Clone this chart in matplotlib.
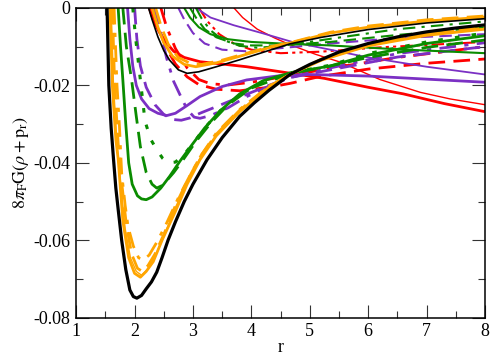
import numpy as np
import matplotlib
matplotlib.use("Agg")
import matplotlib.pyplot as plt

# colours used by the curves
RED = "#ff0000"
PURPLE = "#7b30c4"
GREEN = "#0a8c00"
ORANGE = "#ffa500"
BLACK = "#000000"

# ---- deep wells (r, value) ----
black_deep = [(1.53, 0), (1.56, -0.02), (1.6, -0.031), (1.64, -0.039), (1.68, -0.0465), (1.72, -0.052),
              (1.78, -0.060), (1.85, -0.0675), (1.92, -0.0728), (1.98, -0.0745), (2.04, -0.0749),
              (2.12, -0.0742), (2.2, -0.0725), (2.29, -0.0707), (2.38, -0.0682), (2.47, -0.0645),
              (2.575, -0.0599), (2.7, -0.0552), (2.85, -0.0500), (3.0, -0.0455), (3.24, -0.0392),
              (3.5, -0.0335), (3.8, -0.0280), (4.05, -0.0245), (4.3, -0.0213), (4.66, -0.0172),
              (5.0, -0.0146), (5.5, -0.0114), (6.0, -0.0092), (6.5, -0.0075), (7.0, -0.0062),
              (7.5, -0.0052), (8.0, -0.0044)]
orange_deep = [(1.58, 0), (1.62, -0.02), (1.68, -0.034), (1.72, -0.039), (1.8, -0.055), (1.9, -0.0645),
               (2.0, -0.0685), (2.1, -0.0695), (2.2, -0.068), (2.32, -0.0655), (2.47, -0.060), (2.7, -0.0525),
               (2.9, -0.0455), (3.12, -0.0392), (3.4, -0.0330), (3.8, -0.0268), (4.3, -0.0205),
               (4.66, -0.0172), (5.2, -0.0135), (6.0, -0.0098), (7.0, -0.0071), (8.0, -0.0055)]
orange_deep_thin = [(1.6, 0), (1.64, -0.02), (1.7, -0.035), (1.76, -0.045), (1.84, -0.057), (1.93, -0.0645),
                    (2.03, -0.068), (2.12, -0.069), (2.22, -0.0675), (2.34, -0.0645), (2.5, -0.059),
                    (2.7, -0.0515), (2.9, -0.0450), (3.12, -0.0388), (3.4, -0.0328), (3.8, -0.0266),
                    (4.3, -0.0204), (4.66, -0.0172), (5.2, -0.0134), (6.0, -0.0097), (7.0, -0.0070), (8.0, -0.0054)]
orange_deep_dash = [(1.62, 0), (1.66, -0.02), (1.72, -0.035), (1.78, -0.045), (1.86, -0.056), (1.95, -0.0635),
                    (2.05, -0.0672), (2.13, -0.068), (2.23, -0.0665), (2.35, -0.0635), (2.5, -0.0585),
                    (2.7, -0.051), (2.9, -0.0447), (3.12, -0.0385), (3.4, -0.0326), (3.8, -0.0264),
                    (4.3, -0.0203), (4.66, -0.0172), (5.2, -0.0133), (6.0, -0.0096), (7.0, -0.0068), (8.0, -0.0052)]
orange_deep_dashdot = [(1.65, 0), (1.7, -0.02), (1.74, -0.03), (1.78, -0.0427), (1.84, -0.051), (1.89, -0.0565),
                       (1.98, -0.0615), (2.07, -0.0645), (2.15, -0.065), (2.25, -0.0638), (2.38, -0.0605),
                       (2.55, -0.0555), (2.75, -0.049), (2.95, -0.0432), (3.15, -0.0378), (3.4, -0.0323),
                       (3.8, -0.0262), (4.3, -0.0202), (4.66, -0.0172), (5.2, -0.0132), (6.0, -0.0094),
                       (7.0, -0.0066), (8.0, -0.0050)]
green_deep = [(1.72, 0), (1.76, -0.01), (1.8, -0.0186), (1.85, -0.030), (1.9, -0.040), (1.96, -0.0455),
              (2.05, -0.0485), (2.12, -0.0493), (2.2, -0.0495), (2.3, -0.0488), (2.45, -0.0465),
              (2.6, -0.0435), (2.78, -0.0395), (3.0, -0.0350), (3.2, -0.0310), (3.47, -0.0265),
              (3.8, -0.0222), (4.2, -0.0188), (4.66, -0.0168), (5.35, -0.0150), (6.0, -0.0122),
              (7.0, -0.0092), (8.0, -0.0072)]
green_deep_dash = [(1.8, 0), (1.86, -0.01), (1.95, -0.0186), (2.03, -0.028), (2.1, -0.0358), (2.2, -0.0425),
                   (2.3, -0.0455), (2.38, -0.0465), (2.48, -0.0458), (2.67, -0.0425), (2.85, -0.0388),
                   (3.05, -0.0345), (3.3, -0.0298), (3.6, -0.0250), (4.0, -0.0207), (4.66, -0.0170),
                   (5.35, -0.0150), (6.0, -0.0128), (7.0, -0.0102), (8.0, -0.0083)]
green_deep_dots = [(1.97, 0), (2.02, -0.008), (2.1, -0.0186), (2.18, -0.0293), (2.28, -0.034), (2.38, -0.0366),
                   (2.48, -0.0388), (2.58, -0.0400), (2.7, -0.0398), (2.85, -0.0378), (3.0, -0.0350),
                   (3.2, -0.0310), (3.47, -0.0265), (3.8, -0.0225), (4.2, -0.0190), (4.66, -0.0168),
                   (5.35, -0.0148), (6.0, -0.0118), (7.0, -0.0088), (8.0, -0.0065)]
purple_deep = [(1.88, 0), (1.92, -0.008), (1.97, -0.015), (2.03, -0.020), (2.12, -0.0235), (2.25, -0.026),
               (2.4, -0.0272), (2.55, -0.0278), (2.7, -0.0272), (2.9, -0.0252), (3.12, -0.0229),
               (3.5, -0.0203), (3.92, -0.0186), (4.49, -0.0175), (5.0, -0.0172), (6.0, -0.0176),
               (7.0, -0.0184), (8.0, -0.0192)]
purple_deep_dash = [(2.0, 0), (2.04, -0.008), (2.1, -0.015), (2.2, -0.0205), (2.35, -0.025), (2.5, -0.0275),
                    (2.65, -0.0288), (2.8, -0.029), (2.95, -0.0284), (3.12, -0.0272), (3.4, -0.0255),
                    (3.69, -0.0237), (4.3, -0.0200), (4.66, -0.0180), (5.35, -0.0160), (6.5, -0.0127),
                    (8.0, -0.0100)]
purple_deep_dashdot = [(2.35, 0), (2.44, -0.006), (2.55, -0.013), (2.67, -0.019), (2.78, -0.0225),
                       (2.9, -0.0262), (3.02, -0.0282), (3.12, -0.0285), (3.3, -0.0278), (3.6, -0.0258),
                       (3.92, -0.0229), (4.3, -0.0202), (4.66, -0.0180), (5.35, -0.0155), (6.5, -0.0118),
                       (8.0, -0.0090)]
red_deep = [(2.25, 0), (2.32, -0.003), (2.42, -0.0062), (2.55, -0.0091), (2.67, -0.0112), (2.85, -0.0128),
            (3.12, -0.0139), (3.5, -0.0145), (3.92, -0.0152), (4.5, -0.0165), (5.25, -0.0182),
            (6.0, -0.0205), (6.6, -0.0222), (7.3, -0.0247), (8.0, -0.0268)]
red_deep_dash = [(2.3, 0), (2.4, -0.005), (2.55, -0.0105), (2.7, -0.0145), (2.9, -0.0178), (3.1, -0.0198),
                 (3.4, -0.0210), (3.8, -0.0214), (4.3, -0.0205), (4.66, -0.0195), (5.18, -0.0177),
                 (6.0, -0.0158), (7.0, -0.0143), (8.0, -0.0132)]
red_deep_dashdot = [(2.45, 0), (2.55, -0.005), (2.7, -0.0105), (2.9, -0.0155), (3.1, -0.0185), (3.3, -0.0196),
                    (3.6, -0.0199), (4.0, -0.0192), (4.6, -0.0176), (5.35, -0.0156), (6.5, -0.0128),
                    (8.0, -0.0100)]

# ---- shallow curves ----
black_shallow = [(2.24, 0), (2.3, -0.003), (2.4, -0.0075), (2.5, -0.011), (2.6, -0.0135), (2.75, -0.016),
                 (2.9, -0.0169), (3.1, -0.0165), (3.4, -0.0152), (3.8, -0.0134), (4.3, -0.0110),
                 (4.66, -0.0093), (5.2, -0.0076), (6.0, -0.0056), (7.0, -0.0039), (8.0, -0.0028)]
orange_shallow = [(2.3, 0), (2.4, -0.005), (2.5, -0.009), (2.65, -0.0125), (2.85, -0.0146), (3.05, -0.0152),
                  (3.4, -0.0142), (3.8, -0.0125), (4.3, -0.0103), (4.66, -0.0091), (5.35, -0.0065),
                  (6.0, -0.0050), (7.0, -0.0034), (8.0, -0.0024)]
orange_shallow_dash = [(2.36, 0), (2.46, -0.005), (2.58, -0.0095), (2.75, -0.0128), (2.95, -0.0143),
                       (3.15, -0.0146), (3.5, -0.0135), (3.9, -0.0118), (4.3, -0.0101), (4.66, -0.0090),
                       (5.35, -0.0063), (6.0, -0.0047), (7.0, -0.0031), (8.0, -0.0021)]
green_shallow = [(2.85, 0), (2.95, -0.0025), (3.1, -0.005), (3.3, -0.0068), (3.6, -0.0081), (4.0, -0.0088),
                 (4.5, -0.0092), (5.35, -0.0097), (6.5, -0.0107), (8.0, -0.0117)]
green_shallow_dash = [(2.95, 0), (3.05, -0.0025), (3.2, -0.0055), (3.4, -0.0076), (3.7, -0.0092),
                      (4.0, -0.0097), (4.5, -0.0097), (5.35, -0.0088), (6.5, -0.0070), (8.0, -0.0050)]
green_shallow_dashdot = [(3.05, 0), (3.15, -0.0028), (3.3, -0.0058), (3.5, -0.0082), (3.8, -0.0098),
                         (4.1, -0.0103), (4.5, -0.0099), (5.35, -0.0080), (6.5, -0.0055), (8.0, -0.0035)]
purple_shallow = [(3.05, 0), (3.3, -0.0025), (3.7, -0.0045), (4.2, -0.0066), (4.7, -0.0088),
                  (5.35, -0.0108), (6.0, -0.0128), (7.0, -0.0152), (8.0, -0.0172)]
purple_shallow_dash = [(2.75, 0), (2.85, -0.003), (3.0, -0.0065), (3.2, -0.0092), (3.5, -0.0108),
                       (3.9, -0.0112), (4.5, -0.0104), (5.35, -0.0092), (6.5, -0.0078), (8.0, -0.0068)]
red_thin = [(3.7, 0), (3.85, -0.0025), (4.1, -0.0055), (4.4, -0.0078), (4.66, -0.0095), (5.1, -0.0120),
            (5.52, -0.0140), (6.2, -0.0185), (6.89, -0.0218), (7.4, -0.0235), (8.0, -0.0250)]
red_shallow_dash = [(3.1, 0), (3.25, -0.0035), (3.45, -0.0068), (3.7, -0.0092), (4.0, -0.0108),
                    (4.5, -0.0117), (5.2, -0.0113), (6.2, -0.0102), (8.0, -0.0088)]

# (curve, colour, linestyle, linewidth)
curves = [
    (red_thin, RED, "-", 1.0),
    (red_deep, RED, "-", 2.0),
    (red_deep_dash, RED, (0, (6, 3)), 2.0),
    (red_deep_dashdot, RED, (0, (6, 3, 1.5, 3)), 2.0),
    (red_shallow_dash, RED, (0, (6, 2, 1.5, 2, 1.5, 2)), 1.5),
    (purple_shallow, PURPLE, "-", 1.3),
    (purple_shallow_dash, PURPLE, (0, (6, 3)), 1.5),
    (purple_deep, PURPLE, "-", 2.0),
    (purple_deep_dash, PURPLE, (0, (6, 3)), 2.0),
    (purple_deep_dashdot, PURPLE, (0, (6, 3, 1.5, 3)), 2.0),
    (green_shallow, GREEN, "-", 1.5),
    (green_shallow_dash, GREEN, (0, (6, 3)), 1.5),
    (green_shallow_dashdot, GREEN, (0, (6, 3, 1.5, 3)), 1.5),
    (green_deep, GREEN, "-", 2.0),
    (green_deep_dash, GREEN, (0, (6, 3)), 2.0),
    (green_deep_dots, GREEN, (0, (1.5, 4)), 2.2),
    (orange_shallow, ORANGE, "-", 2.0),
    (orange_shallow_dash, ORANGE, (0, (6, 3)), 2.0),
    (orange_deep, ORANGE, "-", 2.0),
    (orange_deep_thin, ORANGE, "-", 1.0),
    (orange_deep_dash, ORANGE, (0, (6, 3)), 2.0),
    (orange_deep_dashdot, ORANGE, (0, (6, 3, 1.5, 3)), 2.0),
    (black_shallow, BLACK, "-", 1.2),
    (black_deep, BLACK, "-", 2.3),
]

plt.rcParams["font.family"] = "Liberation Serif"
plt.rcParams["mathtext.fontset"] = "stix"

fig = plt.figure(figsize=(4.91, 3.56), dpi=100)
ax = fig.add_axes([0.155, 0.107, 0.833, 0.871])

for pts, col, ls, lw in curves:
    r = [p[0] for p in pts]
    v = [p[1] for p in pts]
    ax.plot(r, v, color=col, linestyle=ls, linewidth=lw, solid_capstyle="butt", solid_joinstyle="round")

ax.set_xlim(1, 8)
ax.set_ylim(-0.08, 0)
ax.set_xticks(np.arange(1, 9, 1))
ax.set_xticks(np.arange(1, 8.01, 0.5), minor=True)
ax.set_yticks([-0.08, -0.06, -0.04, -0.02, 0])
ax.set_yticks(np.arange(-0.08, 0.001, 0.01), minor=True)
ax.set_yticklabels(["-0.08", "-0.06", "-0.04", "-0.02", "0"])
ax.tick_params(which="both", direction="in", top=True, right=True, labelsize=13, width=0.8, color="#333333")
ax.tick_params(which="major", length=9.5, pad=4)
ax.tick_params(which="minor", length=5)
for s in ax.spines.values():
    s.set_linewidth(1.1)

ax.set_xlabel("r", fontsize=13, labelpad=-1)
ax.set_ylabel(r"$8\pi_{\mathrm{F}}\mathrm{G}(\rho+\mathrm{p}_{\mathrm{r}})$", fontsize=13, labelpad=2)

fig.savefig("out.png", dpi=100)
